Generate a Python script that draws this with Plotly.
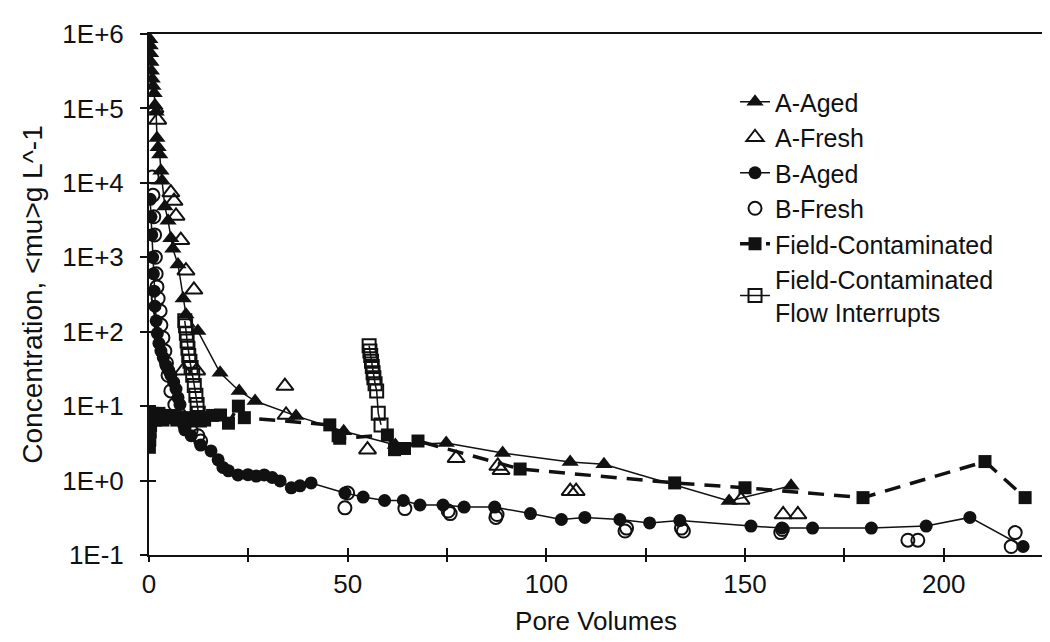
import plotly.graph_objects as go

# ---------------- data ----------------
a_aged_x = [0.2, 0.3, 0.4, 0.5, 0.6, 0.8, 1.0, 1.3, 1.5, 1.8, 2.0, 2.3, 2.7, 3.0, 3.3, 4.0, 4.8,
            5.5, 6.0, 7.3, 8.6, 9.3, 12.3, 17.9, 22.7, 26.7, 37.0, 49.0, 62.0, 74.8, 89.0, 106.0,
            114.5, 146.0, 161.6]
a_aged_y = [8.5e5, 7e5, 5.5e5, 4.2e5, 3.2e5, 2.5e5, 2e5, 1.6e5, 1.1e5, 9e4, 4e4, 3e4, 2.4e4,
            1.45e4, 1.07e4, 4.8e3, 3.1e3, 1.8e3, 1.3e3, 800, 280, 170, 102, 28, 16, 11.7, 7.4,
            4.6, 3.0, 3.2, 2.35, 1.78, 1.66, 0.53, 0.85]

a_fresh_x = [1.5, 2.2, 5.5, 6.3, 6.8, 8.0, 9.3, 11.3, 8.6, 12.0, 34.2, 34.5, 55.0, 77.3, 87.8,
             88.6, 106.0, 107.5, 149.0, 159.6, 163.3]
a_fresh_y = [1e5, 7e4, 7400, 5700, 3600, 1700, 660, 365, 30, 30, 18.6, 7.6, 2.6, 2.0, 1.57,
             1.38, 0.72, 0.72, 0.55, 0.35, 0.35]

b_aged_x = [0.3, 0.5, 0.7, 0.9, 1.1, 1.3, 1.5, 1.8, 2.1, 2.5, 3.0, 3.6, 4.3, 5.0, 5.5, 6.2, 6.8,
            7.3, 7.8, 8.1, 9.0, 10.6, 13.0, 15.6, 17.4, 18.6, 20.0, 22.4, 24.9, 27.0, 29.0, 31.0,
            33.0, 35.8, 38.0, 40.8, 49.3, 53.9, 59.3, 64.0, 68.2, 74.0, 79.3, 87.0, 96.0, 103.8,
            109.7, 118.5, 126.0, 133.6, 151.5, 159.3, 167.0, 181.8, 195.6, 206.6, 220.0]
b_aged_y = [6000, 3500, 2000, 1000, 600, 350, 220, 140, 95, 70, 55, 45, 35, 30, 26, 21, 17,
            13, 10.5, 7.0, 4.8, 4.0, 3.0, 2.5, 1.9, 1.5, 1.35, 1.19, 1.2, 1.15, 1.19, 1.1,
            0.99, 0.8, 0.85, 0.93, 0.68, 0.6, 0.54, 0.54, 0.47, 0.47, 0.44, 0.44, 0.36, 0.3,
            0.32, 0.3, 0.27, 0.29, 0.245, 0.23, 0.23, 0.23, 0.245, 0.32, 0.13]

b_fresh_x = [0.8, 1.0, 1.2, 1.4, 1.6, 1.8, 2.0, 2.3, 2.8, 3.0, 3.5, 4.0, 4.4, 4.8, 5.5, 6.5, 7.8,
             9.0, 10.6, 12.3, 13.0, 49.3, 50.0, 64.4, 75.3, 75.8, 87.3, 87.6, 119.8, 120.2,
             134.0, 134.5, 159.0, 159.4, 191.0, 193.5, 217.0, 218.0]
b_fresh_y = [1.2e4, 6800, 3500, 2000, 1000, 600, 400, 280, 190, 123, 83, 55, 38, 26, 16, 10.5,
             7.6, 5.6, 4.7, 4.0, 3.4, 0.43, 0.68, 0.42, 0.39, 0.36, 0.32, 0.35, 0.21, 0.23,
             0.23, 0.21, 0.2, 0.22, 0.158, 0.158, 0.13, 0.2]

field_x = [0.1, 0.2, 0.3, 0.4, 0.6, 0.8, 1.2, 1.6, 2.0, 2.5, 3.0, 3.5, 4.0, 5.0, 6.0, 7.0, 8.0,
           9.0, 10.0, 11.0, 12.0, 13.0, 14.0, 16.0, 18.0, 20.0, 22.5, 24.0, 45.5, 47.6, 48.0,
           60.0, 61.8, 64.3, 67.7, 93.4, 132.3, 150.0, 179.7, 210.4, 220.5]
field_y = [2.8, 3.5, 4.5, 5.5, 7.5, 8.0, 7.0, 6.5, 7.0, 8.0, 7.5, 6.5, 7.0, 7.5, 7.0, 6.5, 7.0,
           6.5, 7.0, 6.5, 6.5, 7.0, 6.5, 7.5, 7.6, 5.9, 10.0, 7.0, 5.6, 4.0, 3.7,
           4.1, 2.6, 2.7, 3.4, 1.43, 0.93, 0.8, 0.59, 1.8, 0.59]

interrupt_x = [9.0, 9.2, 9.4, 9.6, 9.8, 10.0, 10.3, 10.6, 11.0, 11.4, 11.8, 12.1, 12.4, 12.7,
               None,
               55.4, 55.6, 55.8, 56.0, 56.2, 56.4, 56.6, 56.9, 57.3, 57.7, 58.4]
interrupt_y = [140, 120, 95, 75, 60, 48, 40, 33, 26, 19, 14, 10.5, 8, 6.5,
               None,
               65, 55, 48, 40, 34, 28, 24, 20, 16, 8, 5.6]

x_tick_vals = [0, 50, 100, 150, 200]
y_tick_vals = [0.1, 1, 10, 100, 1e3, 1e4, 1e5, 1e6]
y_tick_text = ["1E-1", "1E+0", "1E+1", "1E+2", "1E+3", "1E+4", "1E+5", "1E+6"]

# ---------------- figure ----------------
FONT = "Liberation Sans, Arial, sans-serif"
INK = "#111111"

fig = go.Figure()

fig.add_trace(go.Scatter(
    x=a_aged_x, y=a_aged_y, name="A-Aged", mode="lines+markers", legendgroup="g1",
    line=dict(color=INK, width=1.5),
    marker=dict(symbol="triangle-up", size=15, color=INK)))
fig.add_trace(go.Scatter(
    x=a_fresh_x, y=a_fresh_y, name="A-Fresh", mode="markers", legendgroup="g2",
    marker=dict(symbol="triangle-up-open", size=15, color=INK, line=dict(width=2))))
fig.add_trace(go.Scatter(
    x=b_aged_x, y=b_aged_y, name="B-Aged", mode="lines+markers", legendgroup="g3",
    line=dict(color=INK, width=1.5),
    marker=dict(symbol="circle", size=13, color=INK)))
fig.add_trace(go.Scatter(
    x=b_fresh_x, y=b_fresh_y, name="B-Fresh", mode="markers", legendgroup="g4",
    marker=dict(symbol="circle-open", size=13, color=INK, line=dict(width=2))))
fig.add_trace(go.Scatter(
    x=field_x, y=field_y, name="Field-Contaminated", mode="lines+markers", legendgroup="g5",
    line=dict(color=INK, width=3.5, dash="16px,10px"),
    marker=dict(symbol="square", size=13, color=INK)))
fig.add_trace(go.Scatter(
    x=interrupt_x, y=interrupt_y, name="Field-Contaminated<br>Flow Interrupts",
    mode="lines+markers", legendgroup="g6", connectgaps=False,
    line=dict(color=INK, width=1.5),
    marker=dict(symbol="square-open", size=13, color=INK, line=dict(width=2))))

# invisible trace so the overlay axes (for crossing tick marks) are drawn
fig.add_trace(go.Scatter(x=[None], y=[None], xaxis="x2", yaxis="y2",
                         showlegend=False, hoverinfo="skip"))

fig.update_layout(
    width=1050, height=642,
    margin=dict(l=141, r=15, t=26, b=95),
    paper_bgcolor="white", plot_bgcolor="white",
    font=dict(family=FONT, size=26, color=INK),
    showlegend=True,
    legend=dict(x=0.6555, y=0.9136, xanchor="left", yanchor="top",
                bgcolor="rgba(0,0,0,0)", font=dict(size=25, color=INK),
                tracegroupgap=0, itemwidth=30),
    xaxis=dict(
        range=[0, 225], tickvals=x_tick_vals, ticks="outside", ticklen=5, tickwidth=2,
        tickcolor=INK, showline=True, linecolor=INK, linewidth=2, mirror=True,
        showgrid=False, zeroline=False, ticklabelstandoff=0,
        tickfont=dict(size=26),
        minor=dict(dtick=25, tick0=0, ticks="outside", ticklen=5, tickwidth=2, tickcolor=INK,
                   showgrid=False),
        title=dict(text="Pore Volumes", standoff=14, font=dict(size=26)),
    ),
    yaxis=dict(
        type="log", range=[-1, 6], tickvals=y_tick_vals, ticktext=y_tick_text,
        ticks="outside", ticklen=7, tickwidth=2, tickcolor=INK,
        showline=True, linecolor=INK, linewidth=2, mirror=True,
        showgrid=False, zeroline=False, ticklabelstandoff=11,
        tickfont=dict(size=26),
        title=dict(text="Concentration, &lt;mu&gt;g L^-1", standoff=12, font=dict(size=28)),
    ),
    xaxis2=dict(
        range=[0, 225], overlaying="x", anchor="y2", side="bottom",
        tickvals=[0, 25, 50, 75, 100, 125, 150, 175, 200], ticks="inside", ticklen=7,
        tickwidth=2, tickcolor=INK, showticklabels=False, showline=False,
        showgrid=False, zeroline=False, fixedrange=True,
    ),
    yaxis2=dict(
        type="log", range=[-1, 6], overlaying="y", anchor="x2", side="left",
        tickvals=y_tick_vals, ticks="inside", ticklen=7, tickwidth=2, tickcolor=INK,
        showticklabels=False, showline=False, showgrid=False, zeroline=False,
        fixedrange=True,
    ),
)

fig.write_html("out.html")
